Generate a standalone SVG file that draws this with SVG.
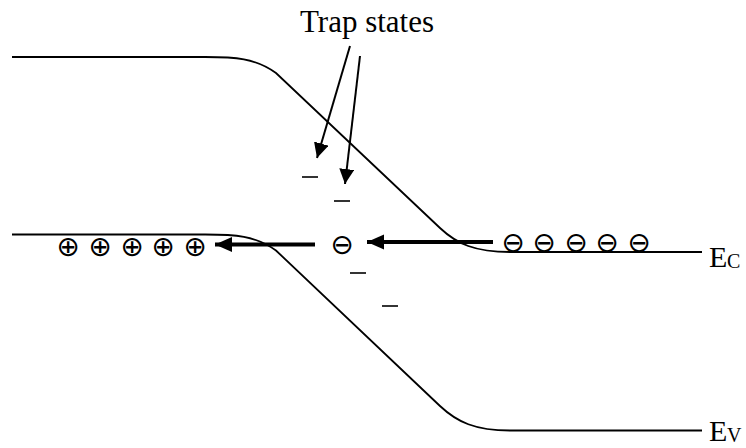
<svg xmlns="http://www.w3.org/2000/svg" width="746" height="448" viewBox="0 0 746 448">
<style>
.band{fill:none;stroke:#000;stroke-width:1.8}
.thin{stroke:#000;stroke-width:2;fill:none}
.thick{stroke:#000;stroke-width:4;fill:none}
.lbl{font-family:"Liberation Serif","Times New Roman",serif;fill:#000}
.sym{font-family:"DejaVu Sans",sans-serif;font-size:28px;fill:#000;text-anchor:middle}
.dash{stroke:#000;stroke-width:1.6}
</style>
<defs>
<marker id="ah" markerUnits="userSpaceOnUse" markerWidth="16" markerHeight="16" refX="15" refY="7.5" orient="auto"><path d="M0,0 L15,7.5 L0,15 z" fill="#000"/></marker>
<marker id="ahb" markerUnits="userSpaceOnUse" markerWidth="18" markerHeight="16" refX="17" refY="7.5" orient="auto"><path d="M0,0 L17,7.5 L0,15 z" fill="#000"/></marker>
</defs>
<g id="conduction-band">
<path class="band" d="M12,57 H205 C235,57 255,58 276,73 L440,228 C457,244 475,252 510,252 H702"/>
<text class="lbl" x="709" y="267" font-size="30">E</text><text class="lbl" x="727" y="268" font-size="20">C</text>
</g>
<g id="valence-band">
<path class="band" d="M12,234.5 H205 C235,234.5 255,235.5 276,250.5 L440,406 C457,422 475,430.5 510,430.5 H702"/>
<text class="lbl" x="709" y="441" font-size="30">E</text><text class="lbl" x="727" y="442" font-size="20">V</text>
</g>
<g id="trap-label">
<text class="lbl" x="300" y="32" font-size="31">Trap states</text>
</g>
<g id="trap-states">
<line class="dash" x1="302" y1="177" x2="318" y2="177"/>
<line class="dash" x1="334" y1="201" x2="350" y2="201"/>
<line class="dash" x1="350" y1="273" x2="366" y2="273"/>
<line class="dash" x1="382" y1="306" x2="398" y2="306"/>
</g>
<g id="holes">
<text class="sym" x="68" y="256">⊕</text>
<text class="sym" x="100" y="256">⊕</text>
<text class="sym" x="132" y="256">⊕</text>
<text class="sym" x="163" y="256">⊕</text>
<text class="sym" x="195" y="256">⊕</text>
</g>
<g id="electrons">
<text class="sym" x="342" y="254">⊖</text>
<text class="sym" x="513" y="252">⊖</text>
<text class="sym" x="544" y="252">⊖</text>
<text class="sym" x="576" y="252">⊖</text>
<text class="sym" x="607" y="252">⊖</text>
<text class="sym" x="639" y="252">⊖</text>
</g>
<g id="connectors">
<line class="thin" x1="350" y1="46" x2="317" y2="158" marker-end="url(#ah)"/>
<line class="thin" x1="360" y1="56" x2="345" y2="184" marker-end="url(#ah)"/>
<line class="thick" x1="493" y1="242" x2="367" y2="242" marker-end="url(#ahb)"/>
<line class="thick" x1="315" y1="244.5" x2="215" y2="244.5" marker-end="url(#ahb)"/>
</g>
</svg>
